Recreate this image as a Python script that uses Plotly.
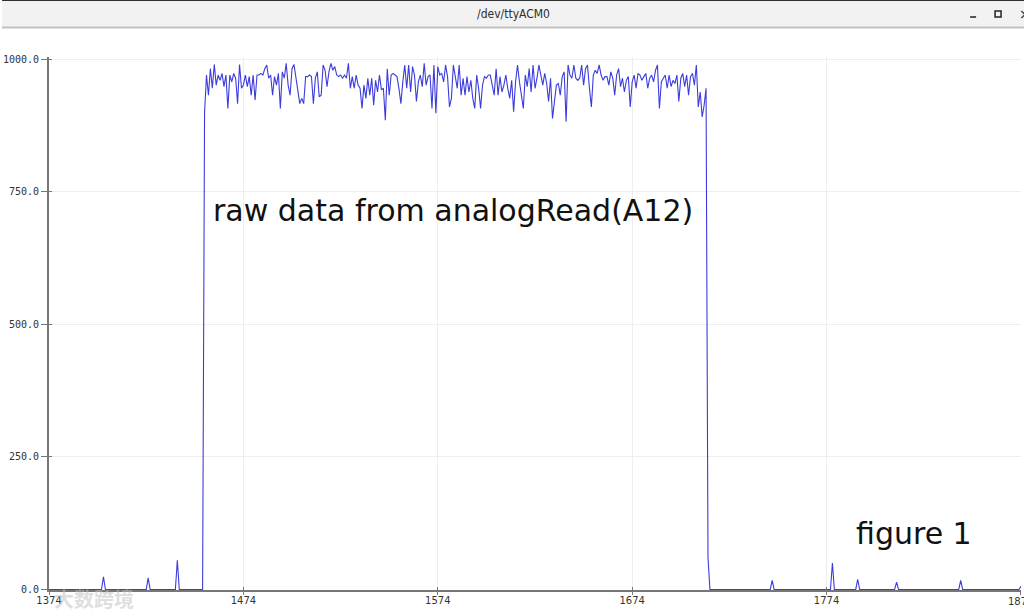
import plotly.graph_objects as go

# ---------------- data ----------------
first_sample = 1374
last_sample = 1874

# high plateau readings, one per sample starting at plateau_start
plateau_start = 1454
plateau_values = [
    898,
    970, 932, 982, 945, 990, 951, 970, 960, 973, 948,
    970, 907, 970, 957, 973, 964, 916, 990, 945, 951,
    970, 948, 967, 932, 970, 923, 970, 970, 973, 970,
    982, 989, 964, 970, 932, 967, 951, 973, 907, 976,
    964, 992, 951, 932, 982, 990, 964, 932, 916, 926,
    916, 967, 967, 970, 967, 916, 964, 976, 929, 932,
    989, 979, 948, 976, 992, 979, 986, 970, 967, 970,
    964, 970, 964, 992, 945, 967, 945, 970, 951, 945,
    907, 951, 926, 964, 932, 964, 913, 960, 938, 970,
    942, 945, 885, 982, 932, 970, 973, 970, 967, 945,
    916, 957, 989, 945, 989, 938, 986, 970, 920, 957,
    970, 948, 992, 951, 967, 970, 907, 989, 898, 986,
    970, 973, 957, 989, 967, 910, 926, 989, 970, 945,
    989, 932,
    964, 932, 967, 938, 960, 926, 907, 970, 945, 907,
    951, 967, 964, 970, 970, 951, 932, 982, 932, 967,
    938, 951, 970, 945, 926, 960, 901, 957, 989, 957,
    932, 907, 970, 948, 982, 938, 989, 945, 964, 989,
    970, 951, 973, 954, 920, 964, 888, 926, 951, 954,
    932, 967, 976, 882,
    989, 970, 964, 989, 964, 960, 964, 989, 951, 982,
    989, 945, 910, 970, 979, 973, 989, 970, 960, 967,
    967, 951, 976, 964, 932, 970, 982, 948, 964, 938,
    960, 967, 910, 957, 970, 945, 973, 970, 960, 967,
    973, 945, 964, 970, 957, 979, 989, 907, 957, 964,
    970, 945, 970, 948, 960, 954, 970, 920, 964, 973,
    948, 970, 932, 967, 973, 951, 989, 910, 938, 891,
    913, 945,
]
fall_sample = 1713
fall_value = 60

# isolated small spikes on the zero baseline
spike_samples = [1402, 1425, 1440, 1746, 1777, 1790, 1810, 1843, 1874]
spike_values = [24, 22, 55, 17, 50, 19, 14, 17, 6]

x_ticks = [1374, 1474, 1574, 1674, 1774, 1874]
x_tick_labels = ["1374", "1474", "1574", "1674", "1774", "1874"]
y_ticks = [0, 250, 500, 750, 1000]
y_tick_labels = ["0.0", "250.0", "500.0", "750.0", "1000.0"]

# build the series
readings = {s: 0 for s in range(first_sample, last_sample + 1)}
for s, v in zip(spike_samples, spike_values):
    readings[s] = v
for i, v in enumerate(plateau_values):
    readings[plateau_start + i] = v
readings[fall_sample] = fall_value
xs = list(readings.keys())
ys = list(readings.values())

# ---------------- layout helpers ----------------
L, R, T, B = 47, 3, 57, 26
W, H = 1024, 616
PW, PH = W - L - R, H - T - B


def px(xp):
    return (xp - L) / PW


def py(yp):
    return (H - B - yp) / PH


AXIS = "#777777"
GRID = "#eeeeee"
TICKFONT_X = dict(family="DejaVu Sans", size=10, color="#333333")

fig = go.Figure()
fig.add_trace(go.Scatter(
    x=xs, y=ys, mode="lines",
    line=dict(color="#3c3cdc", width=1.1),
    showlegend=False, hoverinfo="skip",
))
# empty trace to carry the overlay axes (other halves of the crossing ticks)
fig.add_trace(go.Scatter(x=[None], y=[None], xaxis="x2", yaxis="y2",
                         showlegend=False, hoverinfo="skip"))

xr = [1373.98, 1874.02]
yr = [-1, 1004]

# last x label runs off the window edge: drawn as an annotation so it is cut like the original
axis_x_labels = x_tick_labels[:-1] + [""]

fig.update_layout(
    width=W, height=H,
    margin=dict(l=L, r=R, t=T, b=B, pad=0),
    paper_bgcolor="white", plot_bgcolor="white",
    xaxis=dict(
        range=xr, tickmode="array", tickvals=x_ticks, ticktext=axis_x_labels,
        showgrid=True, gridcolor=GRID, gridwidth=1, zeroline=False,
        showline=True, linecolor=AXIS, linewidth=2,
        ticks="inside", ticklen=3, tickcolor=AXIS, tickwidth=1,
        tickfont=TICKFONT_X,
        fixedrange=True,
    ),
    yaxis=dict(
        range=yr, tickmode="array", tickvals=y_ticks, ticktext=y_tick_labels,
        showgrid=True, gridcolor=GRID, gridwidth=1, zeroline=False,
        showline=True, linecolor=AXIS, linewidth=2,
        ticks="outside", ticklen=6, tickcolor=AXIS, tickwidth=1,
        tickfont=dict(family="DejaVu Sans Mono", size=10, color="#333333"),
        fixedrange=True,
    ),
    xaxis2=dict(range=xr, overlaying="x", side="bottom", tickmode="array",
                tickvals=x_ticks, ticks="outside", ticklen=4, tickcolor=AXIS,
                tickwidth=1, showticklabels=False, showgrid=False,
                zeroline=False, showline=False, anchor="y2", fixedrange=True),
    yaxis2=dict(range=yr, overlaying="y", tickmode="array", tickvals=y_ticks,
                ticks="inside", ticklen=3, tickcolor=AXIS, tickwidth=1,
                showticklabels=False, showgrid=False, zeroline=False,
                showline=False, anchor="x2", fixedrange=True),
)

# window title bar
shapes = [
    dict(type="rect", xref="paper", yref="paper",
         x0=px(0), x1=px(W), y0=py(27), y1=py(0),
         fillcolor="#f2f2f2", line=dict(width=0), layer="below"),
    dict(type="line", xref="paper", yref="paper",
         x0=px(0), x1=px(W), y0=py(0.5), y1=py(0.5),
         line=dict(color="#2f2f2f", width=1)),
    dict(type="line", xref="paper", yref="paper",
         x0=px(0), x1=px(W), y0=py(27.5), y1=py(27.5),
         line=dict(color="#c2c2c2", width=2)),
    # maximize square
    dict(type="rect", xref="paper", yref="paper",
         x0=px(995), x1=px(1001), y0=py(17), y1=py(11),
         line=dict(color="#222222", width=1.5), fillcolor="rgba(0,0,0,0)"),
    # minimize bar
    dict(type="line", xref="paper", yref="paper",
         x0=px(970), x1=px(976), y0=py(17), y1=py(17),
         line=dict(color="#222222", width=1.5)),
]
fig.update_layout(shapes=shapes)

annotations = [
    dict(text="/dev/ttyACM0", xref="paper", yref="paper",
         x=px(512), y=py(14), xanchor="center", yanchor="middle",
         showarrow=False,
         font=dict(family="DejaVu Sans Condensed, Liberation Sans Narrow, Liberation Sans",
                   size=12, color="#2e2e2e")),
    dict(text="×", xref="paper", yref="paper",
         x=px(1017), y=py(14), xanchor="left", yanchor="middle",
         showarrow=False, font=dict(family="DejaVu Sans", size=14, color="#222222")),
    dict(text="raw data from analogRead(A12)", xref="paper", yref="paper",
         x=px(452), y=py(210), xanchor="center", yanchor="middle",
         showarrow=False, font=dict(family="DejaVu Sans", size=30, color="#111111")),
    dict(text="figure 1", xref="paper", yref="paper",
         x=px(914), y=py(533), xanchor="center", yanchor="middle",
         showarrow=False, font=dict(family="DejaVu Sans", size=30, color="#111111")),
    dict(text=x_tick_labels[-1], xref="x", yref="paper",
         x=x_ticks[-1], y=py(601), xanchor="center", yanchor="middle",
         showarrow=False, font=TICKFONT_X),
    dict(text="<b>大数跨境</b>", xref="paper", yref="paper",
         x=px(92), y=py(598), xanchor="center", yanchor="middle",
         showarrow=False,
         font=dict(family="Noto Sans CJK SC", size=20, color="rgba(190,190,190,0.5)")),
]
fig.update_layout(annotations=annotations)

fig.write_html(
    "out.html",
    config={"displayModeBar": False, "staticPlot": True},
    post_script="document.body.style.margin='0';document.body.style.padding='0';"
                "document.body.style.overflow='hidden';",
)
